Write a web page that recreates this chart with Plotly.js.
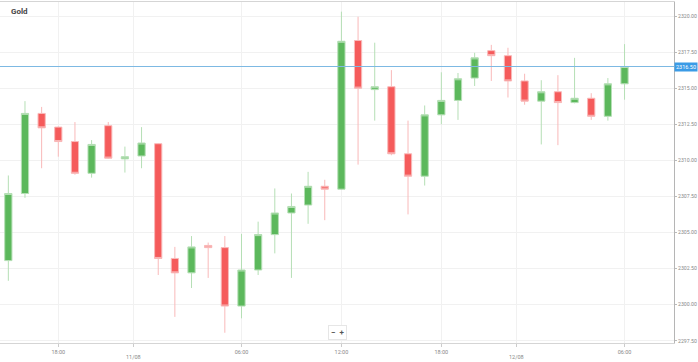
<!DOCTYPE html>
<html>
<head>
<meta charset="utf-8">
<script src="https://cdn.plot.ly/plotly-3.0.1.min.js"></script>
<style>
html,body{margin:0;padding:0;background:#fff;}
#chart{width:698px;height:362px;}
</style>
</head>
<body>
<div id="chart"></div>
<script>
// Hourly candle times (market break at 22:00)
const times = [
  "10/08 15:00","10/08 16:00","10/08 17:00","10/08 18:00","10/08 19:00","10/08 20:00","10/08 21:00","10/08 23:00",
  "11/08 00:00","11/08 01:00","11/08 02:00","11/08 03:00","11/08 04:00","11/08 05:00","11/08 06:00","11/08 07:00",
  "11/08 08:00","11/08 09:00","11/08 10:00","11/08 11:00","11/08 12:00","11/08 13:00","11/08 14:00","11/08 15:00",
  "11/08 16:00","11/08 17:00","11/08 18:00","11/08 19:00","11/08 20:00","11/08 21:00","11/08 23:00",
  "12/08 00:00","12/08 01:00","12/08 02:00","12/08 03:00","12/08 04:00","12/08 05:00","12/08 06:00"
];
const openP  = [2303.05,2307.70,2313.25,2312.30,2311.30,2309.10,2312.40,2310.10,2310.30,2311.15,2303.20,2302.20,2304.10,2303.95,2299.90,2302.40,2304.85,2306.35,2306.90,2308.20,2308.00,2318.30,2314.90,2315.10,2310.45,2308.90,2313.15,2314.15,2315.70,2317.60,2317.25,2315.50,2314.10,2314.75,2314.00,2314.30,2313.05,2315.30];
const highP  = [2308.95,2314.10,2313.70,2312.35,2312.65,2311.40,2312.65,2310.95,2312.30,2311.20,2304.00,2304.75,2304.30,2304.75,2304.90,2305.75,2308.05,2307.70,2309.20,2308.65,2320.30,2319.95,2318.15,2316.25,2312.75,2313.80,2316.10,2316.05,2317.45,2318.00,2317.80,2316.00,2315.55,2315.90,2317.10,2314.65,2315.70,2318.05];
const lowP   = [2301.65,2307.40,2309.45,2310.25,2309.00,2308.80,2310.10,2309.15,2309.45,2302.05,2299.15,2301.15,2301.85,2298.05,2299.05,2302.05,2303.55,2301.85,2305.60,2305.85,2307.95,2309.70,2312.75,2310.35,2306.25,2308.25,2312.50,2312.80,2315.15,2315.50,2314.35,2313.85,2311.10,2311.05,2313.95,2312.80,2312.75,2314.20];
const closeP = [2307.70,2313.25,2312.25,2311.30,2309.10,2311.10,2310.15,2310.25,2311.20,2303.20,2302.20,2304.00,2303.95,2299.90,2302.40,2304.85,2306.35,2306.80,2308.20,2308.00,2318.25,2315.00,2315.10,2310.45,2308.90,2313.15,2314.15,2315.65,2317.10,2317.25,2315.50,2314.10,2314.75,2314.00,2314.30,2313.05,2315.30,2316.50];
const yTicks = [2297.5,2300,2302.5,2305,2307.5,2310,2312.5,2315,2317.5,2320];

const xIdx = times.map((t, i) => i);
const tickvals = [], ticktext = [], dateTicks = [];
times.forEach((t, i) => {
  const [d, h] = t.split(" ");
  if (h === "06:00" || h === "12:00" || h === "18:00") { tickvals.push(i); ticktext.push(h); }
  else if (h === "00:00") { tickvals.push(i - 0.5); ticktext.push(""); dateTicks.push({x: i - 0.5, d: d}); }
});
const lastClose = closeP[closeP.length - 1];

const trace = {
  type: "candlestick",
  x: xIdx, open: openP, high: highP, low: lowP, close: closeP,
  increasing: {fillcolor: "#5cb85c", line: {color: "#b5dfb5", width: 1}},
  decreasing: {fillcolor: "#f55b5b", line: {color: "#f9b9b9", width: 1}},
  whiskerwidth: 0,
  hoverinfo: "none"
};

const annotations = [
  {xref: "paper", yref: "y", x: 1, y: lastClose, xanchor: "left", yanchor: "middle", xshift: 0,
   text: lastClose.toFixed(2), showarrow: false, font: {size: 5.5, color: "#fff"},
   bgcolor: "#3b9be6", borderpad: 1},
  {xref: "paper", yref: "paper", x: 0.014, y: 0.972, xanchor: "left", yanchor: "middle",
   text: "<b>Gold</b>", showarrow: false, font: {size: 8, color: "#444"}},
  {xref: "paper", yref: "paper", x: 0.5, y: 0.03, xanchor: "center", yanchor: "middle",
   text: "<b>−  +</b>", showarrow: false, font: {size: 8, color: "#555"},
   bgcolor: "#fff", bordercolor: "#e6e6e6", borderwidth: 1, borderpad: 2}
];
dateTicks.forEach(dt => annotations.push({
  xref: "x", yref: "paper", x: dt.x, y: -0.041, xanchor: "center", yanchor: "middle",
  text: dt.d, showarrow: false, font: {size: 5.5, color: "#888"}
}));

const layout = {
  width: 698, height: 362,
  margin: {l: 0, r: 24, t: 2, b: 19},
  paper_bgcolor: "#fff", plot_bgcolor: "#fff",
  showlegend: false,
  boxgap: 0.38,
  font: {family: "Roboto, 'Open Sans', Arial, sans-serif", color: "#888"},
  xaxis: {
    range: [-0.5, 39.97], type: "linear",
    rangeslider: {visible: false},
    tickvals: tickvals, ticktext: ticktext,
    tickfont: {size: 5.5, color: "#888"},
    ticks: "outside", ticklen: 3, tickcolor: "#ccc",
    showgrid: true, gridcolor: "#f1f1f1", gridwidth: 1,
    showline: true, linecolor: "#d5d5d5", mirror: true,
    zeroline: false, fixedrange: true
  },
  yaxis: {
    side: "right",
    range: [2297.34, 2320.97],
    tickvals: yTicks, tickformat: ".2f",
    tickfont: {size: 5.2, color: "#888"},
    ticks: "outside", ticklen: 2, tickcolor: "#bbb",
    showgrid: true, gridcolor: "#f1f1f1", gridwidth: 1,
    showline: true, linecolor: "#b5b5b5", mirror: true,
    zeroline: false, fixedrange: true
  },
  shapes: [{
    type: "line", xref: "paper", x0: 0, x1: 1, yref: "y", y0: lastClose, y1: lastClose,
    line: {color: "#7db9e3", width: 1}
  }],
  annotations: annotations
};

Plotly.newPlot("chart", [trace], layout, {displayModeBar: false, staticPlot: true});
</script>
</body>
</html>
